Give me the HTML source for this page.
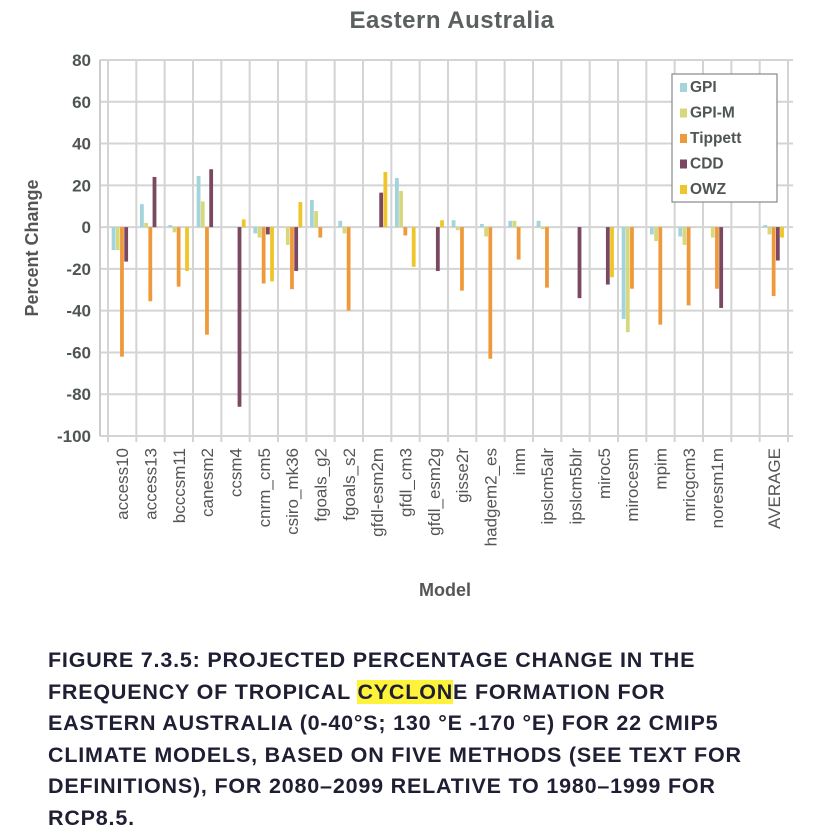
<!DOCTYPE html>
<html><head><meta charset="utf-8"><style>
body{margin:0;background:#fff;width:813px;height:832px;overflow:hidden;font-family:"Liberation Sans",sans-serif}
#cap{position:absolute;left:48px;top:645px;font-size:21.5px;line-height:31.5px;font-weight:bold;color:#1f1f33;letter-spacing:0.8px;margin:0}
.hl{background:#fff23a}
</style></head><body>
<svg id="chart" width="813" height="640" style="position:absolute;left:0;top:0" font-family="Liberation Sans, sans-serif"></svg>
<p id="cap">FIGURE 7.3.5: PROJECTED PERCENTAGE CHANGE IN THE<br>FREQUENCY OF TROPICAL <span class="hl">CYCLON</span>E FORMATION FOR<br>EASTERN AUSTRALIA (0-40°S; 130 °E -170 °E) FOR 22 CMIP5<br>CLIMATE MODELS, BASED ON FIVE METHODS (SEE TEXT FOR<br>DEFINITIONS), FOR 2080–2099 RELATIVE TO 1980–1999 FOR<br>RCP8.5.</p>
<script>
const categories=["access10","access13","bcccsm11","canesm2","ccsm4","cnrm_cm5","csiro_mk36","fgoals_g2","fgoals_s2","gfdl-esm2m","gfdl_cm3","gfdl_esm2g","gisse2r","hadgem2_es","inm","ipslcm5alr","ipslcm5blr","miroc5","mirocesm","mpim","mricgcm3","noresm1m","","AVERAGE"];
const seriesNames=["GPI","GPI-M","Tippett","CDD","OWZ"];
const gpi=[-11,11,1,24.5,0,-3,0,13,3,0,23.5,0,3.3,1.5,3,3,0,0,-44,-3.5,-4.5,0,0,1];
const gpiM=[-11,2,-2.5,12.3,0,-5,-8.5,7.7,-3,0,17.3,0,-1.5,-4.5,3,-1,0,0,-50.3,-6.7,-8.5,-5,0,-3.5];
const tippett=[-62,-35.5,-28.5,-51.5,0,-27,-29.7,-5,-40,0,-4,0,-30.4,-63,-15.5,-29,0,0,-29.5,-46.7,-37.5,-29.5,0,-33];
const cdd=[-16.5,24,0,27.7,-86,-3.5,-21,0,0,16.5,0,-21,0,0,0,0,-34,-27.5,0,0,0,-38.7,0,-16];
const owz=[0,0,-21,0,3.7,-26,12,0,0,26.4,-19,3.3,0,0,0,0,0,-24,0,0,0,0,0,-5];
const yTicks=[80,60,40,20,0,-20,-40,-60,-80,-100];
const colors=["#a3d4dc","#d7d77c","#ee9a3c","#7a4860","#efc62a"];
const series=[gpi,gpiM,tippett,cdd,owz];
const svg=document.getElementById('chart');const NS="http://www.w3.org/2000/svg";
function mk(t,a,p){const e=document.createElementNS(NS,t);for(const k in a)e.setAttribute(k,a[k]);(p||svg).appendChild(e);return e;}
const L=100,R=793,T=60,B=436,g0=108,g1=788;
const y=v=>T+(80-v)*(B-T)/180;
const slot=(g1-g0)/categories.length;
const xc=i=>g0+slot*(i+0.5);
let t=mk('text',{x:452,y:28,'text-anchor':'middle','font-size':24,'font-weight':'bold',fill:'#5a6060','letter-spacing':'0.5'});t.textContent="Eastern Australia";

yTicks.forEach(v=>{const l=mk('line',{x1:L,x2:R,y1:y(v),y2:y(v),stroke:'#d4d4d4','stroke-width':2});

const tx=mk('text',{x:91,y:y(v)+6,'text-anchor':'end','font-size':17,'font-weight':'bold',fill:'#4f5555'});tx.textContent=v;
});
for(let k=0;k<=categories.length;k++){const x=g0+slot*k;const l=mk('line',{x1:x,x2:x,y1:T,y2:B+6,stroke:'#d4d4d4','stroke-width':2});
}
mk('line',{x1:L,x2:L,y1:T,y2:B,stroke:'#ccc','stroke-width':2});
const bw=4.2;
categories.forEach((c,i)=>{
 series.forEach((s,j)=>{const v=s[i];if(!v)return;const x=xc(i)+(j-2.5)*bw;
  const r=mk('rect',{x:x,y:Math.min(y(v),y(0)),width:bw-0.4,height:Math.abs(y(v)-y(0)),fill:colors[j]});
  });
 if(c){const tx=mk('text',{x:0,y:0,'text-anchor':'end','font-size':17,fill:'#555',transform:`translate(${xc(i)+6},448) rotate(-90)`});tx.textContent=c;
 }
});
t=mk('text',{x:445,y:596,'text-anchor':'middle','font-size':18,'font-weight':'bold',fill:'#555'});t.textContent="Model";

t=mk('text',{x:0,y:0,'text-anchor':'middle','font-size':18,'font-weight':'bold',fill:'#555',transform:'translate(38,248) rotate(-90)'});t.textContent="Percent Change";

const lg=mk('g',{});
mk('rect',{x:672,y:74,width:105,height:128,fill:'#fff',stroke:'#888','stroke-width':1.2},lg);
seriesNames.forEach((n,j)=>{const yy=88+j*25.5;const g=mk('g',{},lg);

mk('rect',{x:680,y:yy-5,width:7,height:9,fill:colors[j]},g);
const tx=mk('text',{x:690,y:yy+4,'font-size':15.5,'font-weight':'bold',fill:'#4f5555'},g);tx.textContent=n;});
</script>
</body></html>
